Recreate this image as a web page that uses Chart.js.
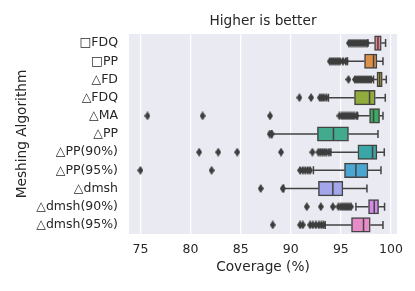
<!DOCTYPE html>
<html>
<head>
<meta charset="utf-8">
<script src="https://cdn.jsdelivr.net/npm/chart.js@4"></script>
<style>
  html, body { margin: 0; padding: 0; background: #fff; }
  #wrap { width: 415px; height: 291px; }
</style>
</head>
<body>
<div id="wrap"><canvas id="myChart" width="415" height="291"></canvas></div>
<script>
const categories = ['□FDQ', '□PP', '△FD', '△FDQ', '△MA', '△PP', '△PP(90%)', '△PP(95%)', '△dmsh', '△dmsh(90%)', '△dmsh(95%)'];
const q1 = [98.36, 97.36, 98.6, 96.36, 97.86, 92.66, 96.7, 95.36, 92.76, 97.76, 96.06];
const medians = [98.7, 98.26, 98.86, 97.86, 98.26, 94.26, 98.16, 96.5, 94.2, 98.33, 97.26];
const q3 = [99.03, 98.6, 99.13, 98.43, 98.86, 95.76, 98.6, 97.7, 95.2, 98.76, 97.93];
const whiskerLow = [97.7, 95.66, 98.26, 93.76, 96.66, 88.1, 94.0, 92.26, 89.3, 96.5, 93.43];
const whiskerHigh = [99.46, 99.2, 99.53, 99.43, 99.2, 98.7, 99.33, 99.0, 97.6, 99.36, 99.2];
const outliers = [
    [95.8, 96.0, 96.2, 96.4, 96.6, 96.8, 97.0, 97.2, 97.4, 97.6],
    [93.9, 94.1, 94.3, 94.5, 94.7, 94.9, 95.2, 95.5],
    [95.76, 96.4, 96.6, 96.8, 97.0, 97.2, 97.4, 97.6, 97.8, 98.0],
    [90.86, 92.03, 92.9, 93.1, 93.3, 93.55],
    [75.7, 81.2, 87.93, 94.86, 95.1, 95.3, 95.5, 95.7, 95.9, 96.1, 96.3, 96.55],
    [87.9, 88.1],
    [80.86, 82.76, 84.66, 89.03, 92.16, 92.76, 92.95, 93.15, 93.35, 93.55, 93.8],
    [75.0, 82.1, 90.93, 91.2, 91.45, 91.7, 91.93],
    [87.0, 89.2],
    [91.6, 93.0, 94.2, 94.76, 95.0, 95.2, 95.4, 95.6, 95.8, 96.0],
    [88.2, 90.93, 91.2, 91.93, 92.2, 92.5, 92.8, 93.05, 93.26]
];
const xTicks = [75, 80, 85, 90, 95, 100];
const boxColors = ['#e5848e', '#db8f48', '#b5a33a', '#91ac3d', '#3caa60', '#43ab8d', '#3ba6a6', '#4ca6d2', '#a3a6ea', '#d58ae6', '#e68cc6'];

const lineColor = '#434343';

// thin diamond marker like matplotlib 'd'
const diamond = document.createElement('canvas');
diamond.width = 6;
diamond.height = 9;
(function () {
    let c = diamond.getContext('2d');
    c.fillStyle = '#3d3d3d';
    c.beginPath();
    c.moveTo(3, 0);
    c.lineTo(6, 4.5);
    c.lineTo(3, 9);
    c.lineTo(0, 4.5);
    c.closePath();
    c.fill();
})();

let outlierPoints = [];
outliers.forEach((list, i) => {
    list.forEach(v => outlierPoints.push({x: v, y: categories[i]}));
});

const boxPlugin = {
    id: 'boxParts',
    beforeDraw(chart) {
        const a = chart.chartArea;
        const ctx = chart.ctx;
        ctx.save();
        ctx.fillStyle = '#eaeaf2';
        ctx.fillRect(a.left, a.top, a.right - a.left, a.bottom - a.top);
        ctx.restore();
    },
    beforeDatasetsDraw(chart) {
        const ctx = chart.ctx;
        const xs = chart.scales.x, ys = chart.scales.y;
        ctx.save();
        ctx.strokeStyle = lineColor;
        ctx.lineWidth = 1.5;
        categories.forEach((c, i) => {
            const y = ys.getPixelForValue(i);
            const lo = xs.getPixelForValue(whiskerLow[i]);
            const hi = xs.getPixelForValue(whiskerHigh[i]);
            ctx.beginPath();
            ctx.moveTo(lo, y);
            ctx.lineTo(xs.getPixelForValue(q1[i]), y);
            ctx.moveTo(xs.getPixelForValue(q3[i]), y);
            ctx.lineTo(hi, y);
            ctx.moveTo(lo, y - 4);
            ctx.lineTo(lo, y + 4);
            ctx.moveTo(hi, y - 4);
            ctx.lineTo(hi, y + 4);
            ctx.stroke();
        });
        ctx.restore();
    },
    afterDatasetsDraw(chart) {
        const ctx = chart.ctx;
        const xs = chart.scales.x, ys = chart.scales.y;
        ctx.save();
        ctx.strokeStyle = lineColor;
        ctx.lineWidth = 1.5;
        categories.forEach((c, i) => {
            const y = ys.getPixelForValue(i);
            const m = xs.getPixelForValue(medians[i]);
            ctx.beginPath();
            ctx.moveTo(m, y - 6.5);
            ctx.lineTo(m, y + 6.5);
            ctx.stroke();
        });
        // title over the axes
        const a = chart.chartArea;
        ctx.fillStyle = '#262626';
        ctx.font = '13.7px "DejaVu Sans"';
        ctx.textAlign = 'center';
        ctx.textBaseline = 'middle';
        ctx.fillText('Higher is better', (a.left + a.right) / 2, 21);
        ctx.restore();
    }
};

Chart.defaults.font.family = '"DejaVu Sans", sans-serif';
Chart.defaults.color = '#262626';

let ctx = document.getElementById('myChart').getContext('2d');
let chart = new Chart(ctx, {
    type: 'bar',
    data: {
        labels: categories,
        datasets: [
            {
                type: 'scatter',
                data: outlierPoints,
                pointStyle: diamond,
                backgroundColor: '#3d3d3d',
                borderWidth: 0
            },
            {
                data: categories.map((c, i) => [q1[i], q3[i]]),
                backgroundColor: boxColors,
                borderColor: lineColor,
                borderWidth: 1.5,
                borderSkipped: false,
                barThickness: 14.5
            }
        ]
    },
    options: {
        indexAxis: 'y',
        responsive: false,
        animation: false,
        layout: {
            padding: {top: 34, right: 18, bottom: 0, left: 0}
        },
        plugins: {
            legend: {display: false},
            tooltip: {enabled: false}
        },
        scales: {
            x: {
                type: 'linear',
                min: 73.86,
                max: 100.6,
                afterBuildTicks: s => { s.ticks = xTicks.map(v => ({value: v})); },
                afterFit: s => { s.height = 57; },
                border: {display: false},
                grid: {color: '#ffffff', lineWidth: 1.2, drawTicks: false},
                ticks: {padding: 8, font: {size: 12.5}, callback: v => String(v)},
                title: {display: true, text: 'Coverage (%)', font: {size: 13.7}, padding: {top: 0, bottom: 15}}
            },
            y: {
                type: 'category',
                afterFit: s => { s.width = 129; },
                border: {display: false},
                grid: {display: false, drawTicks: false},
                ticks: {padding: 11, font: {size: 12.5}},
                title: {display: true, text: 'Meshing Algorithm', font: {size: 13.7}, padding: 14.5}
            }
        }
    },
    plugins: [boxPlugin]
});
</script>
</body>
</html>
